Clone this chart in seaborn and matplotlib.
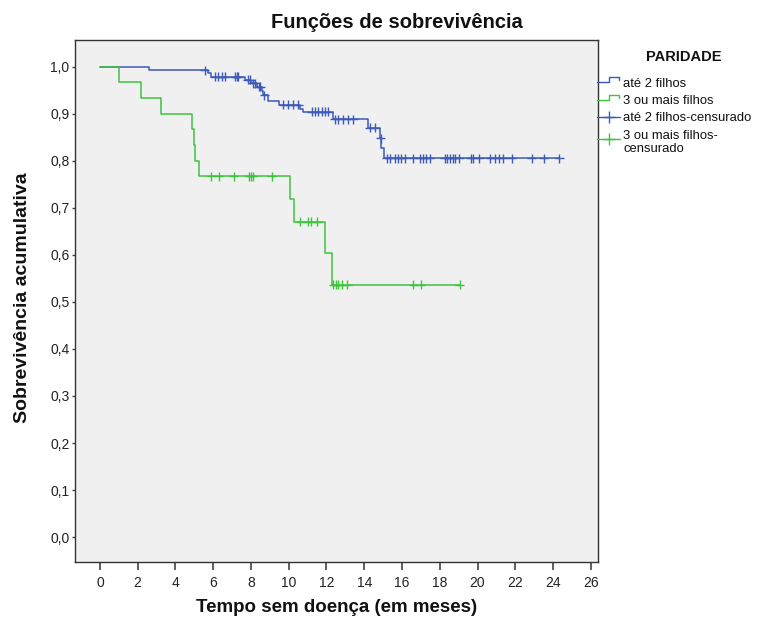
import numpy as np
import pandas as pd
import matplotlib
matplotlib.use("Agg")
import matplotlib.pyplot as plt
from matplotlib.lines import Line2D
from matplotlib.ticker import FuncFormatter, FixedLocator
import seaborn as sns

# Kaplan-Meier step curves: (time of step, survival after the step)
grp_ate2_t = [0.0, 2.6, 5.7, 5.86, 7.7, 8.0, 8.3, 8.58, 8.62, 8.9, 9.5, 10.6, 10.75,
              12.35, 14.2, 14.83, 14.9, 15.06]
grp_ate2_s = [1.0, 0.993, 0.986, 0.979, 0.972, 0.965, 0.958, 0.949, 0.940, 0.928, 0.919,
              0.911, 0.904, 0.889, 0.870, 0.848, 0.828, 0.806]
grp_ate2_cens = [5.56, 6.09, 6.27, 6.45, 6.62, 7.15, 7.24, 7.33, 7.84, 7.95, 8.1, 8.2,
                 8.4, 8.5, 8.7, 9.71, 9.97, 10.24, 10.5, 11.21, 11.39, 11.56, 11.74,
                 11.92, 12.09, 12.45, 12.62, 12.89, 13.15, 13.42, 14.3, 14.57, 14.87,
                 15.18, 15.36, 15.62, 15.8, 15.97, 16.15, 16.6, 16.95, 17.12, 17.27,
                 17.48, 18.27, 18.4, 18.54, 18.68, 18.8, 19.03, 19.63, 19.77, 20.08,
                 20.66, 20.92, 21.15, 21.36, 21.8, 22.86, 23.5, 24.33]

grp_3mais_t = [0.0, 1.0, 2.17, 3.23, 4.86, 4.98, 5.03, 5.26, 10.06, 10.3, 11.9, 12.27]
grp_3mais_s = [1.0, 0.967, 0.933, 0.900, 0.867, 0.833, 0.800, 0.767, 0.719, 0.671,
               0.604, 0.537]
grp_3mais_cens = [5.9, 6.3, 7.1, 7.9, 8.0, 8.1, 9.1, 10.6, 11.0, 11.2, 11.5, 12.36,
                  12.48, 12.6, 12.8, 13.1, 16.6, 17.0, 19.07]

group_names = ["até 2 filhos", "3 ou mais filhos"]
legend_labels = ["até 2 filhos", "3 ou mais filhos", "até 2 filhos-censurado",
                 "3 ou mais filhos-\ncensurado"]
x_ticks = list(range(0, 27, 2))
y_ticks = [0.0, 0.1, 0.2, 0.3, 0.4, 0.5, 0.6, 0.7, 0.8, 0.9, 1.0]

blue = "#3d5ab8"
green = "#3cc43c"
palette = {group_names[0]: blue, group_names[1]: green}

W, H = 767, 622


def curve_frame(name, t, s, cens):
    # extend the last level up to the final follow-up time
    tt = list(t) + [max(cens)]
    ss = list(s) + [s[-1]]
    return pd.DataFrame({"tempo": tt, "sobrev": ss, "grupo": name})


def cens_frame(name, t, s, cens):
    idx = np.searchsorted(np.asarray(t), np.asarray(cens), side="right") - 1
    return pd.DataFrame({"tempo": cens, "sobrev": np.asarray(s)[idx], "grupo": name})


curves = pd.concat([curve_frame(group_names[0], grp_ate2_t, grp_ate2_s, grp_ate2_cens),
                    curve_frame(group_names[1], grp_3mais_t, grp_3mais_s, grp_3mais_cens)],
                   ignore_index=True)
censored = pd.concat([cens_frame(group_names[0], grp_ate2_t, grp_ate2_s, grp_ate2_cens),
                      cens_frame(group_names[1], grp_3mais_t, grp_3mais_s, grp_3mais_cens)],
                     ignore_index=True)

sns.set_theme(style="white")
plt.rcParams["font.family"] = ["Liberation Sans", "DejaVu Sans"]

fig = plt.figure(figsize=(W / 100, H / 100), dpi=100)
fig.patch.set_facecolor("white")
ax = fig.add_axes([75 / W, 1 - 562 / H, (598 - 75) / W, (562 - 40) / H])
ax.set_facecolor("#f0f0f0")

sns.lineplot(data=curves, x="tempo", y="sobrev", hue="grupo", palette=palette,
             estimator=None, sort=False, drawstyle="steps-post", linewidth=1.1,
             legend=False, ax=ax)
sns.scatterplot(data=censored, x="tempo", y="sobrev", hue="grupo", palette=palette,
                marker="+", s=42, linewidth=1.0, legend=False, ax=ax, zorder=3)

ax.set_xlim(-1.32, 26.38)
ax.set_ylim(-0.053, 1.057)
ax.xaxis.set_major_locator(FixedLocator(x_ticks))
ax.yaxis.set_major_locator(FixedLocator(y_ticks))
ax.yaxis.set_major_formatter(FuncFormatter(lambda v, p: f"{v:.1f}".replace(".", ",")))
ax.tick_params(axis="x", direction="out", length=6, width=1.2, color="#444444",
               pad=4, labelsize=10, labelcolor="#222222", bottom=True)
ax.tick_params(axis="y", direction="out", length=2.5, width=1.0, color="#444444",
               pad=1.5, labelsize=10, labelcolor="#222222", left=True)
for sp in ax.spines.values():
    sp.set_color("#333333")
    sp.set_linewidth(1.0)
ax.set_xlabel("")
ax.set_ylabel("")

fig.text(397 / W, 1 - 22 / H, "Funções de sobrevivência", ha="center", va="center",
         fontsize=14.5, fontweight="bold", color="#111111")
fig.text(337 / W, 1 - 608 / H, "Tempo sem doença (em meses)", ha="center", va="center",
         fontsize=13.5, fontweight="bold", color="#111111")
fig.text(23 / W, 1 - 298 / H, "Sobrevivência acumulativa", ha="center", va="center",
         rotation=90, fontsize=14, fontweight="bold", color="#111111")

# legend block to the right of the plot
def fx(x):
    return x / W


def fy(y):
    return 1 - y / H


fig.text(fx(684), fy(57), "PARIDADE", ha="center", va="center", fontsize=10.5,
         fontweight="bold", color="#111111")
step_glyphs = [(blue, 82), (green, 100)]
for col, ybase in step_glyphs:
    xs = [597, 609, 609, 619, 619]
    ys = [ybase, ybase, ybase - 5, ybase - 5, ybase - 2]
    fig.add_artist(Line2D([fx(v) for v in xs], [fy(v) for v in ys], color=col,
                          lw=1.0, transform=fig.transFigure))
for col, yl in [(blue, 117), (green, 139)]:
    fig.add_artist(Line2D([fx(597), fx(620)], [fy(yl), fy(yl)], color=col, lw=1.0,
                          transform=fig.transFigure))
    fig.add_artist(Line2D([fx(609)], [fy(yl)], color=col, marker="+", ms=9, mew=1.0,
                          lw=0, transform=fig.transFigure))
for lab, yl in zip(legend_labels, [84, 101, 118, 142.5]):
    fig.text(fx(623), fy(yl), lab, ha="left", va="center", fontsize=9.4,
             color="#111111", linespacing=1.05)

fig.savefig("out.png", dpi=100, facecolor="white")
